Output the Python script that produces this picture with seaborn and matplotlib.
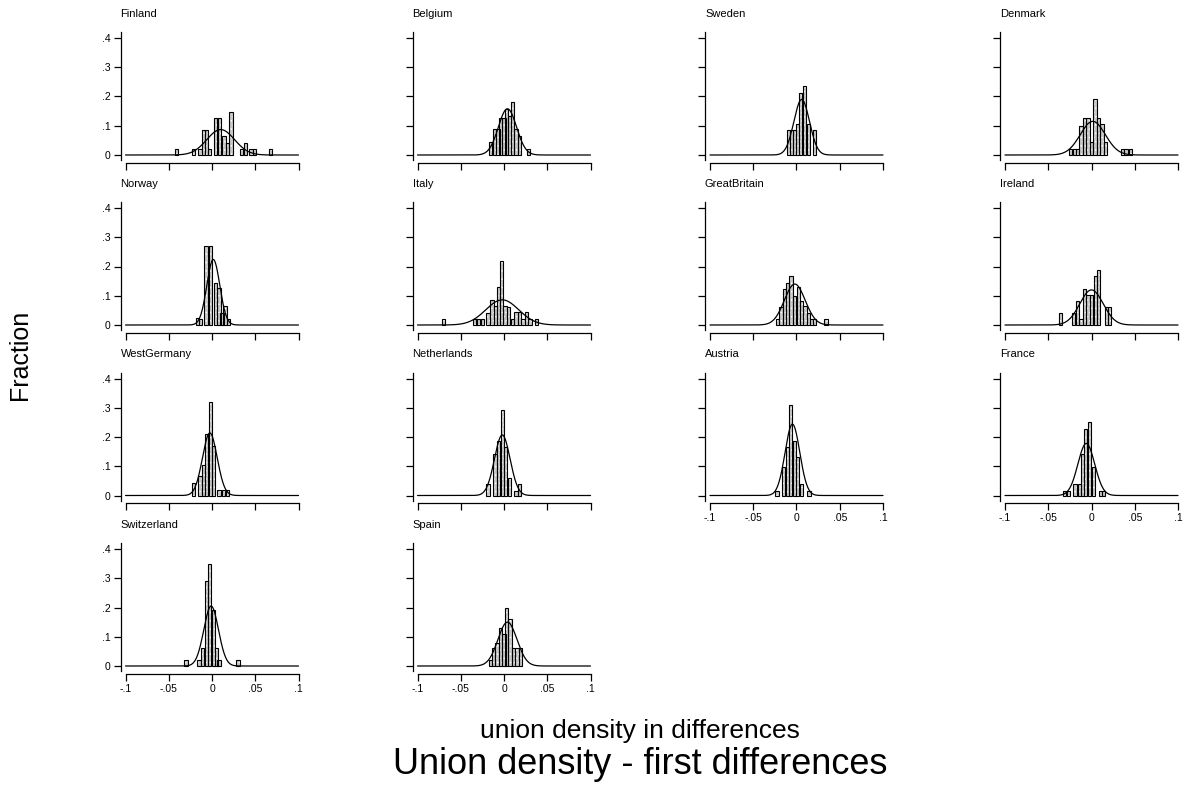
import numpy as np
import pandas as pd
import matplotlib
matplotlib.use('Agg')
import matplotlib.pyplot as plt
import seaborn as sns

# Panel order (row by row, 4 per row)
countries = ['Finland', 'Belgium', 'Sweden', 'Denmark',
             'Norway', 'Italy', 'GreatBritain', 'Ireland',
             'WestGermany', 'Netherlands', 'Austria', 'France',
             'Switzerland', 'Spain']

# histogram bars: bin centres and fractions
bar_centers = [
    [-0.041, -0.021, -0.014, -0.010, -0.006, -0.003, 0.004, 0.009, 0.014, 0.018, 0.022, 0.034, 0.039, 0.045, 0.049, 0.068],
    [-0.0155, -0.011, -0.007, -0.004, 0.000, 0.003, 0.0065, 0.0095, 0.014, 0.018, 0.028],
    [-0.0095, -0.006, -0.002, 0.001, 0.005, 0.0095, 0.0135, 0.021],
    [-0.024, -0.020, -0.016, -0.012, -0.008, -0.004, 0.000, 0.004, 0.008, 0.012, 0.016, 0.036, 0.040, 0.045],
    [-0.0165, -0.013, -0.007, -0.002, 0.004, 0.008, 0.0115, 0.015, 0.019],
    [-0.070, -0.0335, -0.030, -0.025, -0.0185, -0.014, -0.010, -0.0065, -0.0027, 0.001, 0.005, 0.0095, 0.014, 0.018, 0.022, 0.026, 0.030, 0.0375],
    [-0.022, -0.018, -0.014, -0.0105, -0.0065, -0.0027, 0.002, 0.006, 0.0097, 0.0135, 0.0175, 0.021, 0.034],
    [-0.036, -0.0205, -0.016, -0.012, -0.0077, -0.004, 0.000, 0.0046, 0.0085, 0.017, 0.021],
    [-0.0215, -0.014, -0.010, -0.0065, -0.002, 0.002, 0.008, 0.0135, 0.018],
    [-0.0185, -0.0105, -0.006, -0.002, 0.002, 0.006, 0.014, 0.018],
    [-0.0225, -0.0147, -0.0105, -0.0066, -0.0027, 0.001, 0.0058, 0.0143],
    [-0.031, -0.027, -0.019, -0.014, -0.0104, -0.0066, -0.0027, 0.0027, 0.0104, 0.014],
    [-0.030, -0.015, -0.011, -0.0065, -0.0025, 0.0015, 0.005, 0.008, 0.030],
    [-0.016, -0.012, -0.008, -0.004, 0.000, 0.003, 0.007, 0.011, 0.015, 0.019],
]
bar_fracs = [
    [0.02, 0.02, 0.02, 0.085, 0.085, 0.02, 0.128, 0.128, 0.065, 0.042, 0.148, 0.02, 0.04, 0.02, 0.02, 0.02],
    [0.043, 0.09, 0.09, 0.127, 0.127, 0.158, 0.135, 0.18, 0.09, 0.066, 0.02],
    [0.085, 0.085, 0.085, 0.106, 0.213, 0.235, 0.106, 0.085],
    [0.02, 0.02, 0.02, 0.10, 0.127, 0.127, 0.043, 0.19, 0.127, 0.106, 0.043, 0.02, 0.02, 0.02],
    [0.023, 0.02, 0.27, 0.27, 0.145, 0.125, 0.04, 0.065, 0.02],
    [0.02, 0.02, 0.02, 0.02, 0.04, 0.086, 0.066, 0.13, 0.218, 0.066, 0.063, 0.02, 0.043, 0.043, 0.02, 0.043, 0.02, 0.02],
    [0.02, 0.063, 0.123, 0.143, 0.168, 0.10, 0.13, 0.083, 0.066, 0.04, 0.02, 0.02, 0.02],
    [0.04, 0.04, 0.083, 0.02, 0.123, 0.104, 0.104, 0.166, 0.189, 0.063, 0.063],
    [0.044, 0.067, 0.104, 0.209, 0.319, 0.168, 0.02, 0.02, 0.02],
    [0.04, 0.142, 0.188, 0.292, 0.165, 0.06, 0.017, 0.04],
    [0.017, 0.099, 0.165, 0.31, 0.188, 0.133, 0.038, 0.017],
    [0.017, 0.017, 0.038, 0.038, 0.142, 0.227, 0.25, 0.099, 0.017, 0.017],
    [0.02, 0.02, 0.06, 0.29, 0.35, 0.19, 0.06, 0.02, 0.02],
    [0.02, 0.06, 0.08, 0.13, 0.11, 0.20, 0.16, 0.06, 0.06, 0.06],
]

# overlaid normal curve: centre, spread and peak height as seen in each panel
curve_mean = [0.010, 0.004, 0.006, 0.0015, 0.0015, -0.002, -0.002, 0.000, -0.0025, -0.002, -0.0047, -0.006, -0.001, 0.004]
curve_sd = [0.016, 0.0105, 0.009, 0.0145, 0.0075, 0.019, 0.012, 0.0135, 0.0085, 0.009, 0.0085, 0.0097, 0.0085, 0.011]
curve_peak = [0.087, 0.158, 0.19, 0.115, 0.224, 0.086, 0.14, 0.12, 0.214, 0.207, 0.244, 0.178, 0.205, 0.15]

x_ticks = [-0.1, -0.05, 0, 0.05, 0.1]
x_ticklabels = ['-.1', '-.05', '0', '.05', '.1']
y_ticks = [0, 0.1, 0.2, 0.3, 0.4]
y_ticklabels = ['0', '.1', '.2', '.3', '.4']

# panels that carry x tick labels
x_labelled = ['Austria', 'France', 'Switzerland', 'Spain']

sns.set_style('ticks')
plt.rcParams['font.family'] = ['Liberation Sans', 'DejaVu Sans']
plt.rcParams['text.color'] = 'black'
plt.rcParams['axes.labelcolor'] = 'black'
plt.rcParams['hatch.linewidth'] = 0.6

W, H = 1185, 787
fig = plt.figure(figsize=(W / 100, H / 100), dpi=100)

col_left = [120.5, 412.5, 705.0, 1000.0]   # pixel x of y-axis line
row_zero = [155.0, 325.0, 495.5, 666.0]    # pixel y of the zero line
px_per_x = 173 / 0.2
px_per_y = 117 / 0.4
ax_w = 181
ax_h = 128

for i, name in enumerate(countries):
    r, c = divmod(i, 4)
    left = col_left[c]
    top = row_zero[r] - 123
    ax = fig.add_axes([left / W, 1 - (top + ax_h) / H, ax_w / W, ax_h / H])

    xmin = -0.1 - 5 / px_per_x
    ax.set_xlim(xmin, xmin + ax_w / px_per_x)
    ymin = -5 / px_per_y
    ax.set_ylim(ymin, ymin + ax_h / px_per_y)

    # bars: dotted grey fill, then black outline
    ax.bar(bar_centers[i], bar_fracs[i], width=0.0038, facecolor='#c9c9c9',
           edgecolor='white', linewidth=0, hatch='....', zorder=2)
    ax.bar(bar_centers[i], bar_fracs[i], width=0.0038, facecolor='none',
           edgecolor='black', linewidth=0.8, zorder=3)

    xs = np.linspace(-0.1, 0.1, 401)
    curve = pd.DataFrame({
        'x': xs,
        'y': curve_peak[i] * np.exp(-0.5 * ((xs - curve_mean[i]) / curve_sd[i]) ** 2),
    })
    sns.lineplot(data=curve, x='x', y='y', ax=ax, color='black', linewidth=0.9, zorder=4)

    ax.set_xlabel('')
    ax.set_ylabel('')
    ax.set_title(name, loc='left', fontsize=8, pad=11, color='black')

    for side in ['top', 'right']:
        ax.spines[side].set_visible(False)
    ax.spines['bottom'].set_position(('outward', 2))
    ax.spines['bottom'].set_bounds(-0.1, 0.1)
    for side in ['left', 'bottom']:
        ax.spines[side].set_linewidth(0.9)
        ax.spines[side].set_color('black')

    ax.set_xticks(x_ticks)
    ax.set_yticks(y_ticks)
    if name in x_labelled:
        ax.set_xticklabels(x_ticklabels)
    else:
        ax.set_xticklabels([])
    if c == 0:
        ax.set_yticklabels(y_ticklabels)
    else:
        ax.set_yticklabels([])
    ax.tick_params(axis='both', direction='out', length=5, width=0.9,
                   labelsize=7.5, pad=2, colors='black')

fig.text(20 / W, 1 - 355 / H, 'Fraction', rotation=90, ha='center', va='center', fontsize=18)
fig.text(640 / W, 1 - 731 / H, 'union density in differences', ha='center', va='center', fontsize=19)
fig.text(640 / W, 1 - 764 / H, 'Union density - first differences', ha='center', va='center', fontsize=26)

fig.savefig('out.png', dpi=100)
